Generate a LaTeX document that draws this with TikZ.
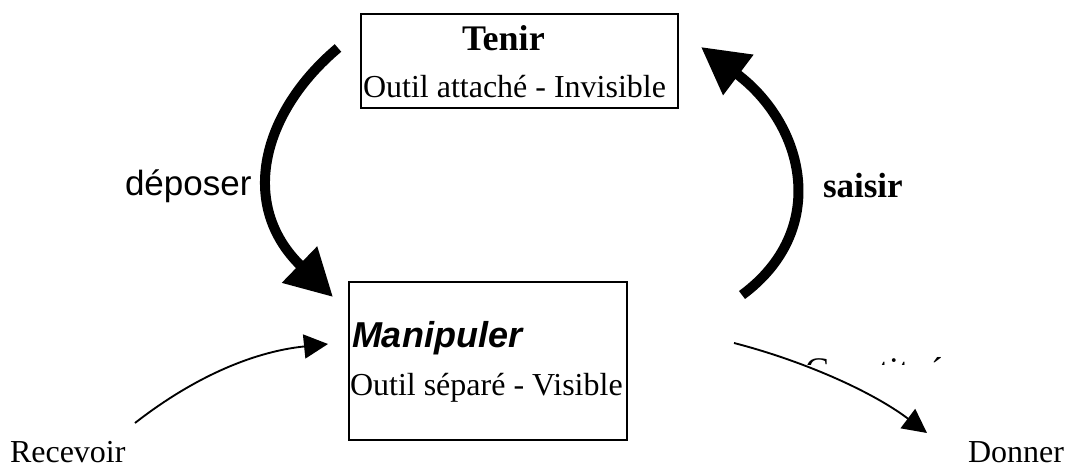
\documentclass[tikz,border=0pt]{standalone}
\usepackage{fontspec}
\setmainfont{Liberation Serif}
\setsansfont{Liberation Sans}
\usetikzlibrary{arrows.meta}
\tikzset{
  boxnode/.style={draw, line width=1.3pt, inner sep=0pt},
  txt/.style={anchor=base west, inner sep=0pt, outer sep=0pt},
  bigarrow/.style={line width=7.5pt, -{Triangle[length=35pt, width=36pt]}},
  thinarrow/.style={line width=1.4pt, -{Triangle[length=18pt, width=18pt]}}
}
\newcommand{\fsA}{\fontsize{24}{28}\selectfont}
\newcommand{\fsB}{\fontsize{26.25}{30}\selectfont}
\newcommand{\fsC}{\fontsize{27}{31}\selectfont}
\begin{document}
\begin{tikzpicture}[x=0.75pt, y=-0.75pt]
\useasboundingbox (0,0) rectangle (1067,468);
% boxes
\node[boxnode, minimum width=237.75pt, minimum height=70.5pt] (tenir) at (519.5,61) {};
\node[boxnode, minimum width=208.5pt, minimum height=118.5pt] (manip) at (488,361) {};
% box texts
\node[txt] (tenirT) at (462,50) {\fsC\bfseries Tenir};
\node[txt] (tenirS) at (363,97) {\fsA Outil attaché - Invisible};
\node[txt] (manipT) at (352,347) {\fsC\sffamily\bfseries\itshape Manipuler};
\node[txt] (manipS) at (350,395) {\fsA Outil séparé - Visible};
% labels
\node[txt] (deposer) at (125,195) {\fsB\sffamily déposer};
\node[txt] (saisir) at (823,197) {\fsB\bfseries saisir};
\node[txt] (recevoir) at (10,462) {\fsA Recevoir};
\node[txt] (donner) at (968,462) {\fsA Donner};
\begin{scope}
  \clip (790,330) rectangle (965,364.5);
  \node[txt] (constitue) at (805,382) {\fsC Constitué};
\end{scope}
% connector ends
\coordinate (dA) at (338,48);
\coordinate (dB) at (333,297);
\coordinate (sA) at (742,295);
\coordinate (sB) at (701,47);
\coordinate (rA) at (135,423);
\coordinate (rB) at (328,344);
\coordinate (gA) at (734,343);
\coordinate (gB) at (927,433);
% connectors
\draw[bigarrow] (dA) .. controls (262,112) and (238,205) .. (dB);
\draw[bigarrow] (sA) .. controls (830,230) and (805,125) .. (sB);
\draw[thinarrow] (rA) .. controls (190,380) and (250,352) .. (rB);
\draw[thinarrow] (gA) .. controls (800,360) and (870,390) .. (gB);
\end{tikzpicture}
\end{document}
